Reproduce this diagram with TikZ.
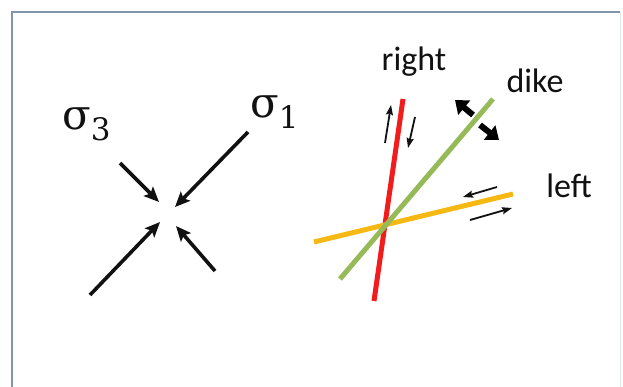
\documentclass[tikz,border=0pt]{standalone}
\usepackage{fontspec}
\setsansfont{Carlito}
\newfontfamily\sigmafont{DejaVu Serif}
\usepackage{tikz}
\usetikzlibrary{arrows.meta}
\definecolor{FrameBlue}{HTML}{8397AC}
\definecolor{FaultRed}{HTML}{F21C1C}
\definecolor{DikeGreen}{HTML}{96BA58}
\definecolor{FaultYellow}{HTML}{F6B914}
\definecolor{TextDark}{HTML}{111111}
\newcommand{\bigsigma}[1]{σ\raisebox{-11pt}{\fontsize{31}{36}\selectfont #1}}

\tikzset{
  stressarrow/.style={line width=3.6pt, TextDark, -{Stealth[length=15pt,width=13pt,inset=3pt]}},
  slipsense/.style={line width=1.8pt, TextDark, -{Stealth[length=10pt,width=7pt,inset=1.5pt]}},
  openarrow/.style={line width=6pt, black, -{Triangle[length=12pt,width=18pt]}},
  trace/.style={line width=5pt},
  faultlabel/.style={inner sep=0pt, anchor=base, text=TextDark, font=\sffamily\fontsize{34}{40}\selectfont},
  sigmalabel/.style={inner sep=0pt, anchor=base west, text=TextDark, font=\sigmafont\fontsize{42}{50}\selectfont}
}

\begin{document}
\begin{tikzpicture}[x=1pt,y=-1pt]
  \useasboundingbox (0,0) rectangle (623,387);
  % frame
  \draw[FrameBlue, line width=2pt] (12,400) -- (12,12) -- (620,12);
  \draw[FrameBlue!25, line width=1pt] (620,12) -- (620,400);

  % principal stresses
  \node[sigmalabel] (sigmathree) at (62,130) {\bigsigma{3}};
  \node[sigmalabel] (sigmaone) at (250,118) {\bigsigma{1}};
  \coordinate (oneA) at (248,132);   \coordinate (oneAtip) at (175,207);
  \coordinate (threeA) at (120,163); \coordinate (threeAtip) at (159,202);
  \coordinate (oneB) at (90,295);    \coordinate (oneBtip) at (160,222);
  \coordinate (threeB) at (215,271); \coordinate (threeBtip) at (176,226);
  \draw[stressarrow] (oneA) -- (oneAtip);
  \draw[stressarrow] (threeA) -- (threeAtip);
  \draw[stressarrow] (oneB) -- (oneBtip);
  \draw[stressarrow] (threeB) -- (threeBtip);

  % conjugate faults and dike
  \coordinate (redtop) at (403,99);     \coordinate (redbot) at (374,301);
  \coordinate (yelleft) at (314,242);   \coordinate (yelright) at (513,194);
  \coordinate (greentop) at (493,99);   \coordinate (greenbot) at (340,279);
  \draw[trace, FaultRed] (redtop) -- (redbot);
  \draw[trace, FaultYellow] (yelleft) -- (yelright);
  \draw[trace, DikeGreen] (greentop) -- (greenbot);

  \node[faultlabel] (rightlbl) at (414,71) {right};
  \node[faultlabel] (dikelbl) at (535,93) {dike};
  \node[faultlabel] (leftlbl) at (569,198) {left};

  % slip sense
  \coordinate (rupA) at (385,143);   \coordinate (rupB) at (391,105);
  \coordinate (rdnA) at (415,117);   \coordinate (rdnB) at (408,148);
  \coordinate (lupA) at (497,187);   \coordinate (lupB) at (463,197);
  \coordinate (ldnA) at (470,220);   \coordinate (ldnB) at (512,208);
  \draw[slipsense] (rupA) -- (rupB);
  \draw[slipsense] (rdnA) -- (rdnB);
  \draw[slipsense] (lupA) -- (lupB);
  \draw[slipsense] (ldnA) -- (ldnB);

  % opening of the dike
  \coordinate (openA) at (473,115);  \coordinate (openAtip) at (455,100);
  \coordinate (openB) at (480,125);  \coordinate (openBtip) at (499,140);
  \draw[openarrow] (openA) -- (openAtip);
  \draw[openarrow] (openB) -- (openBtip);
\end{tikzpicture}
\end{document}
